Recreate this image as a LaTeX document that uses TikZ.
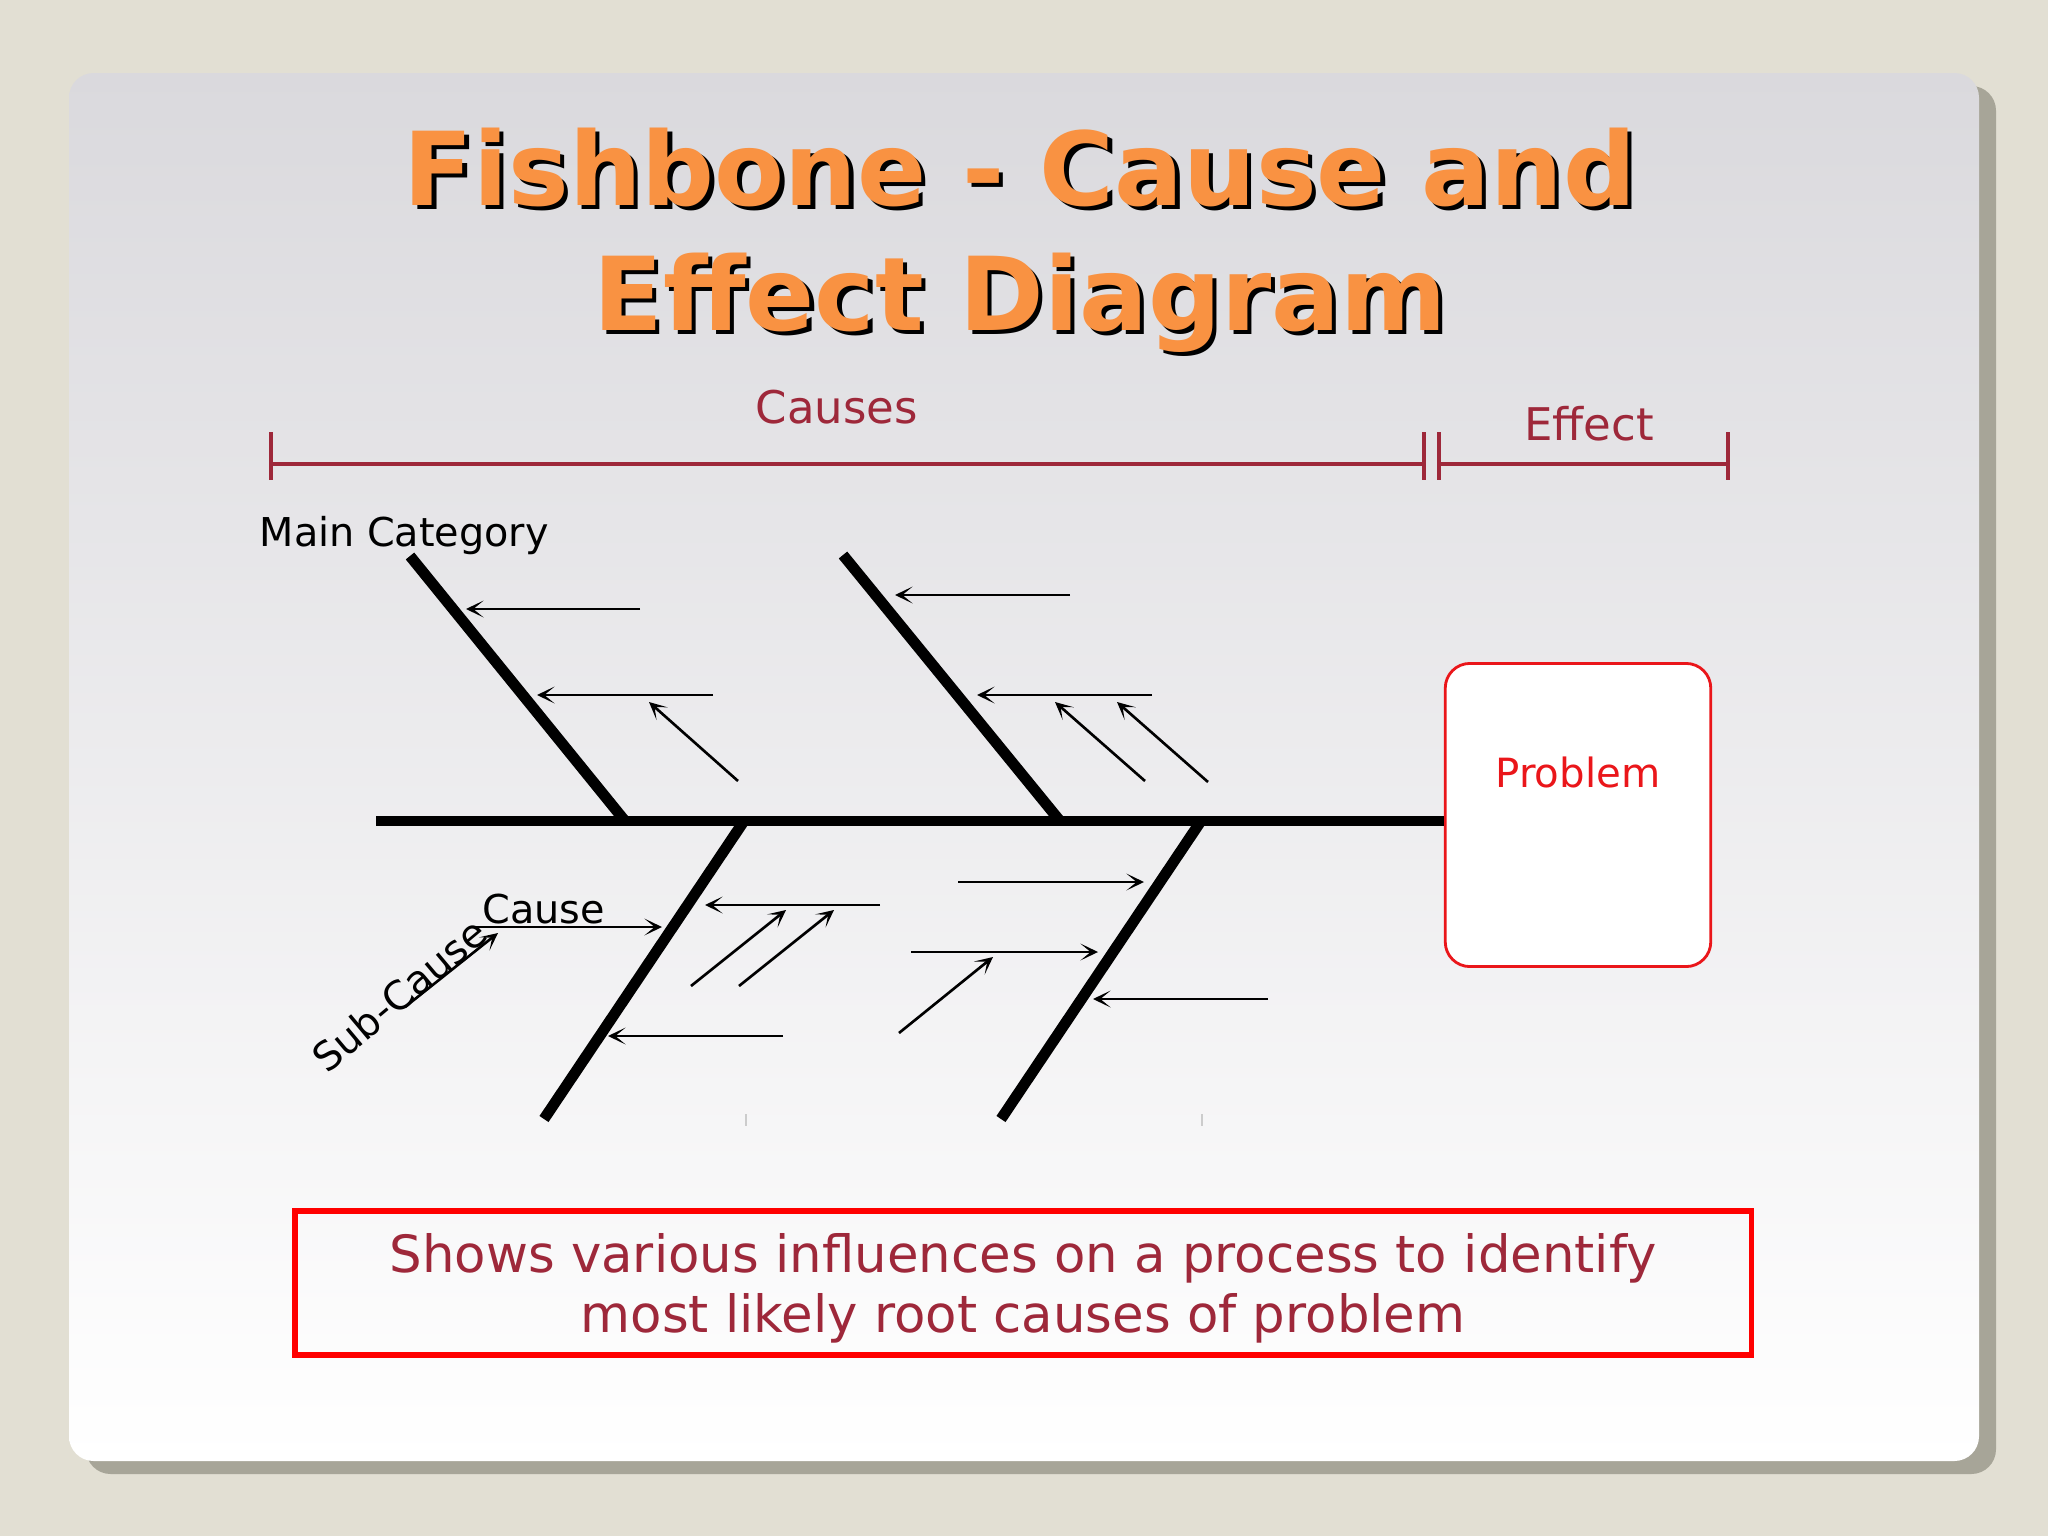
\documentclass[tikz,border=0pt]{standalone}
\usepackage{fontspec, tkz-euclide}
\usetikzlibrary{arrows.meta}
\setmainfont{DejaVu Sans}
\definecolor{slidebg}{RGB}{226,223,211}
\definecolor{cardshadow}{RGB}{167,165,152}
\definecolor{cardtop}{RGB}{218,217,221}
\definecolor{titleorange}{RGB}{249,146,66}
\definecolor{wine}{RGB}{158,40,58}
\definecolor{boxred}{RGB}{234,22,26}
\tikzset{>={Stealth[length=5pt,width=4.8pt,inset=2.9pt]},
  bone/.style={line width=3.1pt, line cap=butt},
  twig/.style={->, line width=0.75pt, line cap=butt},
  rangebar/.style={wine, line width=0.9pt},
  heading/.style={inner sep=0pt, anchor=base, text=titleorange,
    font=\fontsize{29}{34}\selectfont\bfseries},
  note/.style={inner sep=0pt, font=\fontsize{11.3}{13}\selectfont}}

\begin{document}
\begin{tikzpicture}[x=0.01cm, y=-0.01cm]
    \fill[slidebg] (0,0) rectangle (2048,1536);
    \fill[cardshadow, rounded corners=7pt] (86,86) rectangle (1996,1474);
    \shade[top color=cardtop, bottom color=white, rounded corners=7pt] (69,73) rectangle (1979,1461);

    \foreach \txt/\ypos [count=\i] in {Fishbone - Cause and/205, Effect Diagram/330}{
        \node[heading, text=black, xshift=1.2pt, yshift=-1.2pt] (shade\i) at (1020,\ypos) {\txt};
        \node[heading] (title\i) at (1020,\ypos) {\txt};
    }

    \node[note, wine, font=\fontsize{12.8}{15}\selectfont, anchor=base] (causes) at (837,423) {Causes};
    \node[note, wine, font=\fontsize{12.8}{15}\selectfont, anchor=base] (effect) at (1589,440) {Effect};
    \draw[rangebar] (271,432) -- (271,480) (271,464) -- (1424,464) (1424,432) -- (1424,480);
    \draw[rangebar] (1439,432) -- (1439,480) (1439,464) -- (1728,464) (1728,432) -- (1728,480);

    \node[draw=boxred, fill=white, line width=0.8pt, rounded corners=7pt,
        minimum width=75.5pt, minimum height=86.2pt] (problem) at (1578,815) {};
    \node[note, text=boxred, font=\fontsize{11.45}{13}\selectfont] (problemtext)
        at ([yshift=12pt]problem.center) {Problem};

    \coordinate (tail) at (376,821);
    \draw[bone] (tail) -- (tail -| problem.west);
    \tkzDefPoints{410/556/U1, 625/821/V1, 843/555/U2, 1060/821/V2,
        744/821/U3, 544/1119/V3, 1201/821/U4, 1001/1119/V4}
    \tkzDrawSegments[bone](U1,V1 U2,V2 U3,V3 U4,V4)

    \tkzDefPoints{640/609/a1, 466/609/b1, 713/695/a2, 537/695/b2, 738/781/a3, 649/702/b3,
        1070/595/a4, 895/595/b4, 1152/695/a5, 977/695/b5, 1145/781/a6, 1055/702/b6,
        1208/782/a7, 1117/702/b7, 474/927/a8, 662/927/b8, 405/1007/a9, 498/933/b9,
        880/905/a10, 705/905/b10, 691/986/a11, 786/910/b11, 739/986/a12, 834/910/b12,
        783/1036/a13, 608/1036/b13, 958/882/a14, 1144/882/b14, 911/952/a15, 1098/952/b15,
        899/1033/a16, 993/957/b16, 1268/999/a17, 1093/999/b17}
    \tkzDrawSegments[twig](a1,b1 a2,b2 a3,b3 a4,b4 a5,b5 a6,b6 a7,b7 a8,b8 a9,b9
        a10,b10 a11,b11 a12,b12 a13,b13 a14,b14 a15,b15 a16,b16 a17,b17)
    \draw[gray!40, line width=0.3pt] (746,1114) -- (746,1126) (1202,1114) -- (1202,1126);

    \node[note, anchor=base west] (maincat) at (259,546) {Main Category};
    \node[note, anchor=base west] (cause) at (482,923) {Cause};
    \node[note, rotate=40] (subcause) at (399,995) {Sub-Cause};

    \node[draw=red, line width=1.7pt, minimum width=414.3pt, minimum height=41pt,
        text=wine, align=center, font=\fontsize{14.6}{17.1}\selectfont] (summary)
        at (1023,1283) {};
    \node[text=wine, align=center, font=\fontsize{14.6}{17.1}\selectfont] (summarytext)
        at ([yshift=-1.6pt]summary.center) {Shows various influences on a process to identify\\most likely root causes of problem};
\end{tikzpicture}
\end{document}
